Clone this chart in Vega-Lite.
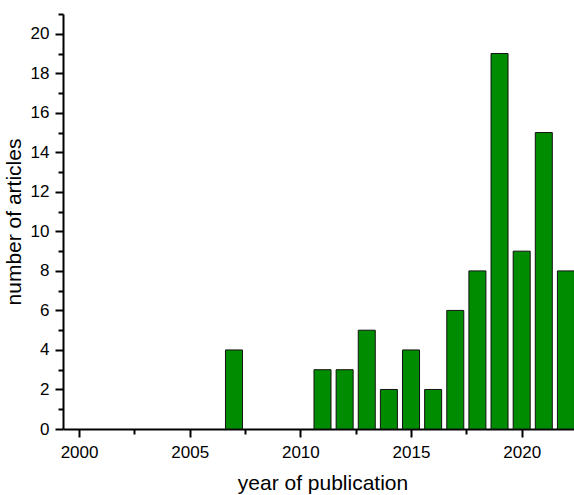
{
  "$schema": "https://vega.github.io/schema/vega-lite/v6.json",
  "autosize": "none",
  "width": 519,
  "height": 415,
  "padding": {"left": 63, "top": 14, "right": 0, "bottom": 66},
  "background": "white",
  "config": {
    "view": {"stroke": null},
    "axis": {
      "labelFont": "Liberation Sans",
      "titleFont": "Liberation Sans",
      "labelFontSize": 17,
      "titleFontSize": 21,
      "titleFontWeight": "normal",
      "labelColor": "black",
      "titleColor": "black",
      "domainColor": "black",
      "tickColor": "black",
      "domainWidth": 2,
      "tickWidth": 2,
      "grid": false
    }
  },
  "data": {
    "values": [
      {"year": 2007, "count": 4},
      {"year": 2011, "count": 3},
      {"year": 2012, "count": 3},
      {"year": 2013, "count": 5},
      {"year": 2014, "count": 2},
      {"year": 2015, "count": 4},
      {"year": 2016, "count": 2},
      {"year": 2017, "count": 6},
      {"year": 2018, "count": 8},
      {"year": 2019, "count": 19},
      {"year": 2020, "count": 9},
      {"year": 2021, "count": 15},
      {"year": 2022, "count": 8}
    ]
  },
  "layer": [
    {
      "mark": {"type": "bar", "size": 17, "fill": "#008C00", "stroke": "#111111", "strokeWidth": 1},
      "encoding": {
        "x": {
          "field": "year", "type": "quantitative",
          "scale": {"domain": [1999.5, 2022.5], "nice": false, "zero": false},
          "axis": {"values": [2000, 2005, 2010, 2015, 2020], "format": "d", "title": "year of publication", "tickSize": 8, "labelPadding": 7, "titlePadding": 12, "orient": "bottom"}
        },
        "y": {
          "field": "count", "type": "quantitative",
          "scale": {"domain": [0, 21], "nice": false},
          "axis": {"values": [0, 2, 4, 6, 8, 10, 12, 14, 16, 18, 20], "title": "number of articles", "tickSize": 8, "labelPadding": 6, "titlePadding": 6, "orient": "left"}
        }
      }
    },
    {
      "mark": {"type": "bar", "size": 17, "opacity": 0},
      "encoding": {
        "x": {
          "field": "year", "type": "quantitative",
          "scale": {"domain": [1999.5, 2022.5], "nice": false, "zero": false},
          "axis": {"values": [2002.5, 2007.5, 2012.5, 2017.5, 2022.5], "labels": false, "title": null, "tickSize": 5, "domain": false, "orient": "bottom"}
        },
        "y": {
          "field": "count", "type": "quantitative",
          "scale": {"domain": [0, 21], "nice": false},
          "axis": {"values": [1, 3, 5, 7, 9, 11, 13, 15, 17, 19, 21], "labels": false, "title": null, "tickSize": 5, "domain": false, "orient": "left"}
        }
      }
    }
  ],
  "resolve": {"axis": {"x": "independent", "y": "independent"}}
}
